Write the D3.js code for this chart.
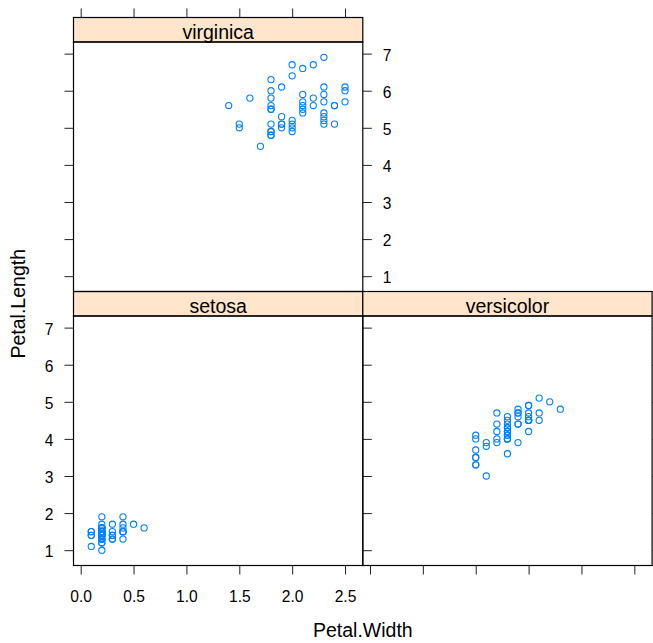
<!DOCTYPE html>
<html>
<head>
<meta charset="utf-8">
<script src="https://cdn.jsdelivr.net/npm/d3@7"></script>
<style>
  html, body { margin: 0; padding: 0; background: #ffffff; }
  svg { display: block; font-family: "Liberation Sans", Arial, Helvetica, sans-serif; }
</style>
</head>
<body>
<script>
// Iris: Petal.Length ~ Petal.Width | Species
const species = ["setosa", "versicolor", "virginica"];

const setosaWidth  = [0.2,0.2,0.2,0.2,0.2,0.4,0.3,0.2,0.2,0.1,0.2,0.2,0.1,0.1,0.2,0.4,0.4,0.3,0.3,0.3,0.2,0.4,0.2,0.5,0.2,0.2,0.4,0.2,0.2,0.2,0.2,0.4,0.1,0.2,0.2,0.2,0.2,0.1,0.2,0.2,0.3,0.3,0.2,0.6,0.4,0.3,0.2,0.2,0.2,0.2];
const setosaLength = [1.4,1.4,1.3,1.5,1.4,1.7,1.4,1.5,1.4,1.5,1.5,1.6,1.4,1.1,1.2,1.5,1.3,1.4,1.7,1.5,1.7,1.5,1.0,1.7,1.9,1.6,1.6,1.5,1.4,1.6,1.6,1.5,1.5,1.4,1.5,1.2,1.3,1.4,1.3,1.5,1.3,1.3,1.3,1.6,1.9,1.4,1.6,1.4,1.5,1.4];

const versicolorWidth  = [1.4,1.5,1.5,1.3,1.5,1.3,1.6,1.0,1.3,1.4,1.0,1.5,1.0,1.4,1.3,1.4,1.5,1.0,1.5,1.1,1.8,1.3,1.5,1.2,1.3,1.4,1.4,1.7,1.5,1.0,1.1,1.0,1.2,1.6,1.5,1.6,1.5,1.3,1.3,1.3,1.2,1.4,1.2,1.0,1.3,1.2,1.3,1.3,1.1,1.3];
const versicolorLength = [4.7,4.5,4.9,4.0,4.6,4.5,4.7,3.3,4.6,3.9,3.5,4.2,4.0,4.7,3.6,4.4,4.5,4.1,4.5,3.9,4.8,4.0,4.9,4.7,4.3,4.4,4.8,5.0,4.5,3.5,3.8,3.7,3.9,5.1,4.5,4.5,4.7,4.4,4.1,4.0,4.4,4.6,4.0,3.3,4.2,4.2,4.2,4.3,3.0,4.1];

const virginicaWidth  = [2.5,1.9,2.1,1.8,2.2,2.1,1.7,1.8,1.8,2.5,2.0,1.9,2.1,2.0,2.4,2.3,1.8,2.2,2.3,1.5,2.3,2.0,2.0,1.8,2.1,1.8,1.8,1.8,2.1,1.6,1.9,2.0,2.2,1.5,1.4,2.3,2.4,1.8,1.8,2.1,2.4,2.3,1.9,2.3,2.5,2.3,1.9,2.0,2.3,1.8];
const virginicaLength = [6.0,5.1,5.9,5.6,5.8,6.6,4.5,6.3,5.8,6.1,5.1,5.3,5.5,5.0,5.1,5.3,5.5,6.7,6.9,5.0,5.7,4.9,6.7,4.9,5.7,6.0,4.8,4.9,5.6,5.8,6.1,6.4,5.6,5.1,5.6,6.1,5.6,5.5,4.8,5.4,5.6,5.1,5.1,5.9,5.7,5.2,5.0,5.2,5.4,5.1];

const xTicks = [0.0, 0.5, 1.0, 1.5, 2.0, 2.5];
const yTicks = [1, 2, 3, 4, 5, 6, 7];
const xTitle = "Petal.Width";
const yTitle = "Petal.Length";

// panel placement: [species, column, row] (row 0 = top)
const panels = [
  { name: "setosa",     w: setosaWidth,     l: setosaLength,     col: 0, row: 1 },
  { name: "versicolor", w: versicolorWidth, l: versicolorLength, col: 1, row: 1 },
  { name: "virginica",  w: virginicaWidth,  l: virginicaLength,  col: 0, row: 0 }
];

const width = 653, height = 643;
const left0 = 73.5, colW = 289.3;
const top0 = 17.5, stripH = 24.5, panelH = 249.5;
const tickLen = 9;
const tickFont = 15.6, mainFont = 19.5;
const pointCol = "#0080ff", stripCol = "#ffe5cc", frameCol = "#000000";

// shared extended ranges
const allW = [].concat(setosaWidth, versicolorWidth, virginicaWidth);
const allL = [].concat(setosaLength, versicolorLength, virginicaLength);
function padExt(arr) {
  const [a, b] = d3.extent(arr);
  const p = (b - a) * 0.07;
  return [a - p, b + p];
}
const xDom = padExt(allW), yDom = padExt(allL);

const svg = d3.select("body").append("svg")
  .attr("width", width).attr("height", height);

function geom(col, row) {
  const x0 = left0 + col * colW;
  const rowTop = top0 + row * (stripH + panelH);
  return { x0, x1: x0 + colW, sTop: rowTop, pTop: rowTop + stripH, pBot: rowTop + stripH + panelH };
}

function styleAxis(g) {
  g.select(".domain").remove();
  g.selectAll(".tick line").attr("stroke", "#222").attr("stroke-width", 1);
  g.selectAll(".tick text").attr("fill", "#000").style("font-size", tickFont + "px")
    .style("font-family", '"Liberation Sans", Arial, sans-serif');
}

panels.forEach(p => {
  const g = geom(p.col, p.row);
  const x = d3.scaleLinear().domain(xDom).range([g.x0, g.x1]);
  const y = d3.scaleLinear().domain(yDom).range([g.pBot, g.pTop]);

  // strip
  svg.append("rect")
    .attr("x", g.x0).attr("y", g.sTop).attr("width", colW).attr("height", stripH)
    .attr("fill", stripCol).attr("stroke", frameCol).attr("stroke-width", 1.2);
  svg.append("text")
    .attr("x", (g.x0 + g.x1) / 2).attr("y", g.pTop - 2.8)
    .attr("text-anchor", "middle").style("font-size", mainFont + "px")
    .attr("fill", "#000").text(p.name);

  // points
  svg.append("g").selectAll("circle")
    .data(d3.range(p.w.length))
    .join("circle")
    .attr("cx", i => x(p.w[i])).attr("cy", i => y(p.l[i]))
    .attr("r", 3.1).attr("fill", "none")
    .attr("stroke", pointCol).attr("stroke-width", 1.1);

  // panel frame
  svg.append("rect")
    .attr("x", g.x0).attr("y", g.pTop).attr("width", colW).attr("height", panelH)
    .attr("fill", "none").attr("stroke", frameCol).attr("stroke-width", 1.2);

  // alternating axes
  if (p.row === 1) {
    const ax = d3.axisBottom(x).tickValues(xTicks).tickSize(tickLen).tickPadding(16)
      .tickFormat(p.col === 0 ? d3.format(".1f") : () => "");
    svg.append("g").attr("transform", `translate(0,${g.pBot})`).call(ax).call(styleAxis);
  } else {
    const ax = d3.axisTop(x).tickValues(xTicks).tickSize(tickLen).tickFormat(() => "");
    svg.append("g").attr("transform", `translate(0,${g.sTop})`).call(ax).call(styleAxis);
  }
  if (p.col === 0) {
    const ax = d3.axisLeft(y).tickValues(yTicks).tickSize(tickLen).tickPadding(11)
      .tickFormat(p.row === 1 ? d3.format("d") : () => "");
    svg.append("g").attr("transform", `translate(${g.x0},0)`).call(ax).call(styleAxis)
      .selectAll(".tick text").attr("dy", "0.42em");
  }
  const rightLabels = (p.row === 0);
  const axr = d3.axisRight(y).tickValues(yTicks).tickSize(tickLen).tickPadding(11)
    .tickFormat(rightLabels ? d3.format("d") : () => "");
  svg.append("g").attr("transform", `translate(${g.x1},0)`).call(axr).call(styleAxis)
    .selectAll(".tick text").attr("dy", "0.42em");
});

// axis titles
svg.append("text")
  .attr("x", left0 + colW).attr("y", 637)
  .attr("text-anchor", "middle").style("font-size", mainFont + "px")
  .attr("fill", "#000").text(xTitle);

svg.append("text")
  .attr("transform", `translate(25,${(top0 + stripH + top0 + 2 * (stripH + panelH)) / 2}) rotate(-90)`)
  .attr("text-anchor", "middle").style("font-size", mainFont + "px")
  .attr("fill", "#000").text(yTitle);
</script>
</body>
</html>
